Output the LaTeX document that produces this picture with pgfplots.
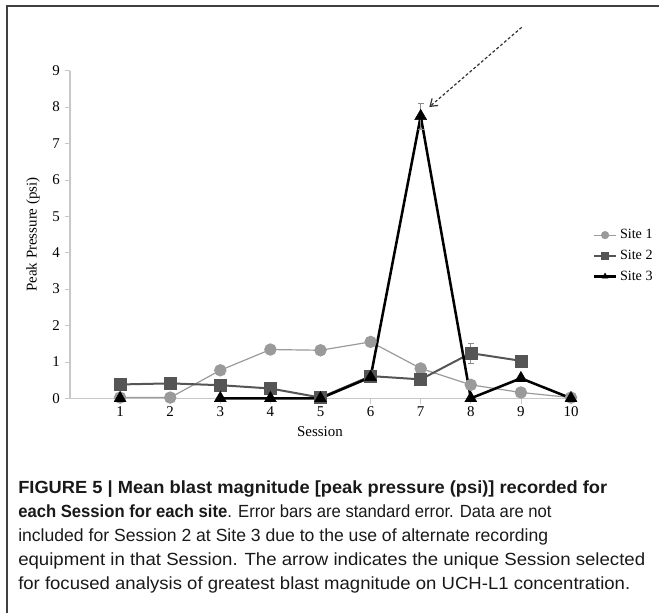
\documentclass[border=0pt]{standalone}
\usepackage{fontspec}
\setmainfont{Liberation Serif}
\newfontfamily\capfont{Liberation Sans}
\usepackage{graphicx}
\usepackage{pgfplots}
\pgfplotsset{compat=1.18}
\usetikzlibrary{arrows.meta}
\definecolor{sone}{HTML}{9A9A9A}
\definecolor{stwo}{HTML}{555555}
\definecolor{axgray}{HTML}{C8C8C8}
\definecolor{errgray}{HTML}{8A8A8A}
\begin{document}
\begin{tikzpicture}[x=0.75pt,y=0.75pt]
\useasboundingbox (0,0) rectangle (659,612);
% frame
\draw[line width=1.4pt, color=black!75] (7.3,-2) -- (7.3,606) -- (661,606);
\begin{axis}[
  at={(52.5pt,160.275pt)}, anchor=south west,
  scale only axis, width=375.75pt, height=245.7pt,
  xmin=0, xmax=10, ymin=0, ymax=9,
  xtick={1,2,...,10}, ytick={0,1,...,9},
  axis x line*=bottom, axis y line*=left,
  axis line style={axgray, line width=0.8pt},
  tick style={axgray, line width=0.6pt},
  tick align=outside, major tick length=4pt,
  tick label style={font=\fontsize{11.2}{13}\selectfont, black},
  /pgf/number format/assume math mode=true,
  xticklabel style={yshift=1pt},
  xlabel={Session}, ylabel={Peak Pressure (psi)},
  label style={font=\fontsize{11.2}{13}\selectfont},
  xlabel style={at={(axis description cs:0.499,-0.103)}, anchor=center},
  ylabel style={at={(axis description cs:-0.074,0.5)}, anchor=center, rotate=0},
  clip=false,
  unbounded coords=jump,
  legend style={at={(1.043,0.435)}, anchor=west, draw=none, fill=none,
    font=\fontsize{10.6}{12}\selectfont, inner xsep=0pt, inner ysep=0pt,
    row sep=3pt},
  legend cell align=left,
  legend image post style={mark size=2.6pt},
  legend image code/.code={\draw[mark repeat=2,mark phase=2] plot coordinates {(0cm,0cm) (0.29cm,0cm) (0.58cm,0cm)};},
  error bars/error bar style={errgray, line width=0.6pt},
  error bars/error mark options={rotate=90, mark size=2.2pt, errgray, line width=0.6pt},
]
\addplot[sone, line width=0.9pt, mark=*, mark size=4.2pt, mark options={fill=sone, draw=sone},
  error bars/.cd, y dir=both, y explicit]
  coordinates {
  (1,0.02) +- (0,0.01)
  (2,0.02) +- (0,0.01)
  (3,0.77) +- (0,0.04)
  (4,1.34) +- (0,0.05)
  (5,1.32) +- (0,0.07)
  (6,1.55) +- (0,0.05)
  (7,0.82) +- (0,0.05)
  (8,0.37) +- (0,0.04)
  (9,0.16) +- (0,0.03)
  (10,0.02) +- (0,0.01)
  };
\addlegendentry{Site 1}
\addplot[stwo, line width=1.5pt, mark=square*, mark size=4.5pt, mark options={fill=stwo, draw=stwo, line width=0.4pt},
  error bars/.cd, y dir=both, y explicit]
  coordinates {
  (1,0.38) +- (0,0.07)
  (2,0.41) +- (0,0.04)
  (3,0.36) +- (0,0.04)
  (4,0.27) +- (0,0.03)
  (5,0.02) +- (0,0.01)
  (6,0.61) +- (0,0.05)
  (7,0.52) +- (0,0.04)
  (8,1.24) +- (0,0.27)
  (9,1.03) +- (0,0.06)
  };
\addlegendentry{Site 2}
\addplot[black, line width=1.9pt, mark=triangle*, mark size=5.2pt, mark options={fill=black, draw=black, line width=0.3pt},
  error bars/.cd, y dir=both, y explicit]
  coordinates {
  (1,0) +- (0,0)
  (2,nan) +- (0,0)
  (3,0) +- (0,0)
  (4,0) +- (0,0)
  (5,0) +- (0,0)
  (6,0.58) +- (0,0.03)
  (7,7.75) +- (0,0.35)
  (8,0) +- (0,0)
  (9,0.55) +- (0,0.04)
  (10,0) +- (0,0)
  };
\addlegendentry{Site 3}
\end{axis}
% arrow annotation
\draw[black!80, line width=0.9pt, dash pattern=on 2.2pt off 1.6pt, -{Straight Barb[length=5pt,width=7pt]}]
  (521.7,584.7) -- (429.3,505);
% caption
\begin{scope}[every node/.style={anchor=base west, inner sep=0pt, text=black!90, font=\capfont\fontsize{13.2}{15}\selectfont}]
\node at (18,119) {\resizebox{441.75pt}{\height}{\bfseries FIGURE 5 | Mean blast magnitude [peak pressure (psi)] recorded for}};
\node at (18,95) {\resizebox{400pt}{\height}{{\bfseries each Session for each site}. Error bars are standard error. Data are not}};
\node at (18,71) {\resizebox{397.5pt}{\height}{included for Session 2 at Site 3 due to the use of alternate recording}};
\node at (18,47) {\resizebox{470.25pt}{\height}{equipment in that Session. The arrow indicates the unique Session selected}};
\node at (18,22.5) {\resizebox{459pt}{\height}{for focused analysis of greatest blast magnitude on UCH-L1 concentration.}};
\end{scope}
\end{tikzpicture}
\end{document}
